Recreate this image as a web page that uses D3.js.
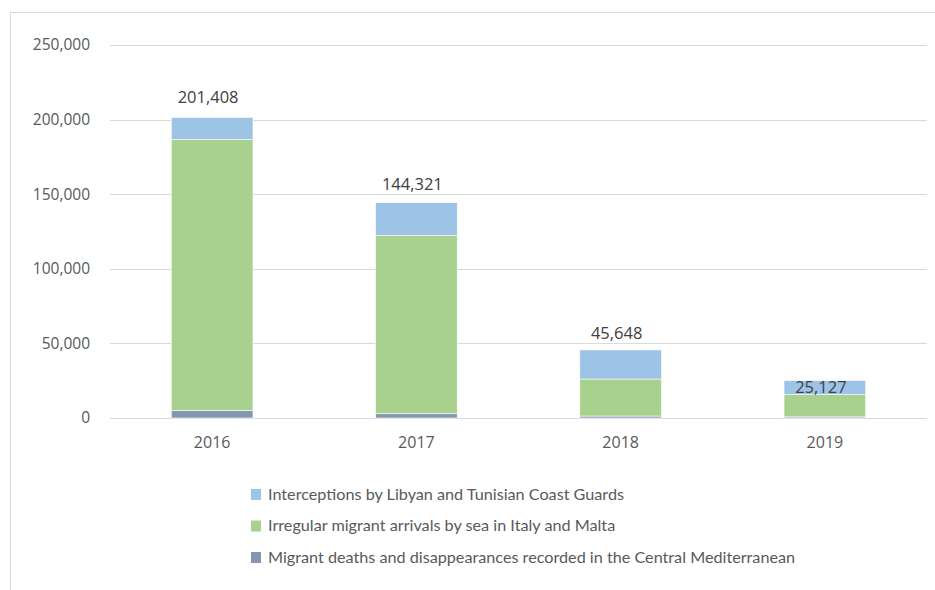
<!DOCTYPE html>
<html>
<head>
<meta charset="utf-8">
<script src="https://cdn.jsdelivr.net/npm/d3@7"></script>
<style>
  body { margin: 0; background: #fff; }
  svg { display: block; }
</style>
</head>
<body>
<div id="chart"></div>
<script>
// values
var years = ['2016', '2017', '2018', '2019'];
var deaths = [5143, 2853, 1314, 754];
var arrivals = [181459, 119392, 24815, 14877];
var interceptions = [14806, 22076, 19519, 9496];
var totalLabels = ['201,408', '144,321', '45,648', '25,127'];
var yTicks = [0, 50000, 100000, 150000, 200000, 250000];

var seriesNames = [
  'Interceptions by Libyan and Tunisian Coast Guards',
  'Irregular migrant arrivals by sea in Italy and Malta',
  'Migrant deaths and disappearances recorded in the Central Mediterranean'
];
var seriesColors = ['#9dc3e6', '#a9d18e', '#8497b0'];

// label nudges (2019 label sits over the bar in the original)
var labelDy = [-20, -18, -17, 7];

var width = 935;
var height = 590;
var margin = {top: 45, right: 8, bottom: 172, left: 110};

var svg = d3.select('#chart').append('svg')
  .attr('width', width)
  .attr('height', height);

// chart frame
svg.append('rect')
  .attr('x', 10.5)
  .attr('y', 12.5)
  .attr('width', width + 10)
  .attr('height', height + 10)
  .attr('fill', 'none')
  .attr('stroke', '#d9d9d9')
  .attr('stroke-width', 1);

var x = d3.scaleBand()
  .domain(years)
  .range([margin.left, width - margin.right])
  .paddingInner(0.6)
  .paddingOuter(0.3);

var y = d3.scaleLinear()
  .domain([0, 250000])
  .range([height - margin.bottom, margin.top]);

// gridlines
svg.append('g')
  .selectAll('line')
  .data(yTicks)
  .enter().append('line')
    .attr('x1', margin.left)
    .attr('x2', width - margin.right)
    .attr('y1', function (d) { return Math.round(y(d)) + 0.5; })
    .attr('y2', function (d) { return Math.round(y(d)) + 0.5; })
    .attr('stroke', '#d9d9d9')
    .attr('stroke-width', 1);

var yAxis = svg.append('g')
  .attr('transform', 'translate(' + (margin.left - 20) + ',0)')
  .call(d3.axisLeft(y).tickValues(yTicks).tickSize(0).tickFormat(d3.format(',')));
yAxis.select('.domain').remove();
yAxis.selectAll('text')
  .attr('fill', '#595959')
  .style('font-family', '"Open Sans", sans-serif')
  .style('font-size', '15.5px')
  .attr('x', 0);

var xAxis = svg.append('g')
  .attr('transform', 'translate(0,' + (height - margin.bottom) + ')')
  .call(d3.axisBottom(x).tickSize(0).tickPadding(19));
xAxis.select('.domain').remove();
xAxis.selectAll('text')
  .attr('fill', '#595959')
  .style('font-family', '"Open Sans", sans-serif')
  .style('font-size', '16px');

// stacked bars
var rows = years.map(function (yr, i) {
  return {year: yr, deaths: deaths[i], arrivals: arrivals[i], interceptions: interceptions[i]};
});
var keys = ['deaths', 'arrivals', 'interceptions'];
var keyColor = {deaths: seriesColors[2], arrivals: seriesColors[1], interceptions: seriesColors[0]};
var stacked = d3.stack().keys(keys)(rows);

svg.append('g')
  .selectAll('g')
  .data(stacked)
  .enter().append('g')
    .attr('fill', function (s) { return keyColor[s.key]; })
  .selectAll('rect')
  .data(function (s) { return s; })
  .enter().append('rect')
    .attr('x', function (d) { return x(d.data.year); })
    .attr('width', x.bandwidth())
    .attr('y', function (d) { return y(d[1]); })
    .attr('height', function (d) { return y(d[0]) - y(d[1]); })
    .attr('stroke', '#fff')
    .attr('stroke-width', 0.6);

// total labels
svg.append('g')
  .selectAll('text')
  .data(rows)
  .enter().append('text')
    .attr('x', function (d) { return x(d.year) + x.bandwidth() / 2 - 4; })
    .attr('y', function (d, i) { return y(d.deaths + d.arrivals + d.interceptions) + labelDy[i]; })
    .attr('dy', '0.35em')
    .attr('text-anchor', 'middle')
    .attr('fill', '#404040')
    .style('font-family', '"Open Sans", sans-serif')
    .style('font-size', '16.5px')
    .text(function (d, i) { return totalLabels[i]; });

// legend
var legend = svg.append('g')
  .attr('transform', 'translate(251,494)')
  .selectAll('g')
  .data(seriesNames)
  .enter().append('g')
    .attr('transform', function (d, i) { return 'translate(0,' + (i * 31.5) + ')'; });

legend.append('rect')
  .attr('x', 0)
  .attr('y', -5)
  .attr('width', 10)
  .attr('height', 11)
  .attr('fill', function (d, i) { return seriesColors[i]; });

legend.append('text')
  .attr('x', 17)
  .attr('dy', '0.35em')
  .attr('fill', '#595959')
  .style('font-family', 'Lato, sans-serif')
  .style('font-size', '16.2px')
  .text(function (d) { return d; });
</script>
</body>
</html>
